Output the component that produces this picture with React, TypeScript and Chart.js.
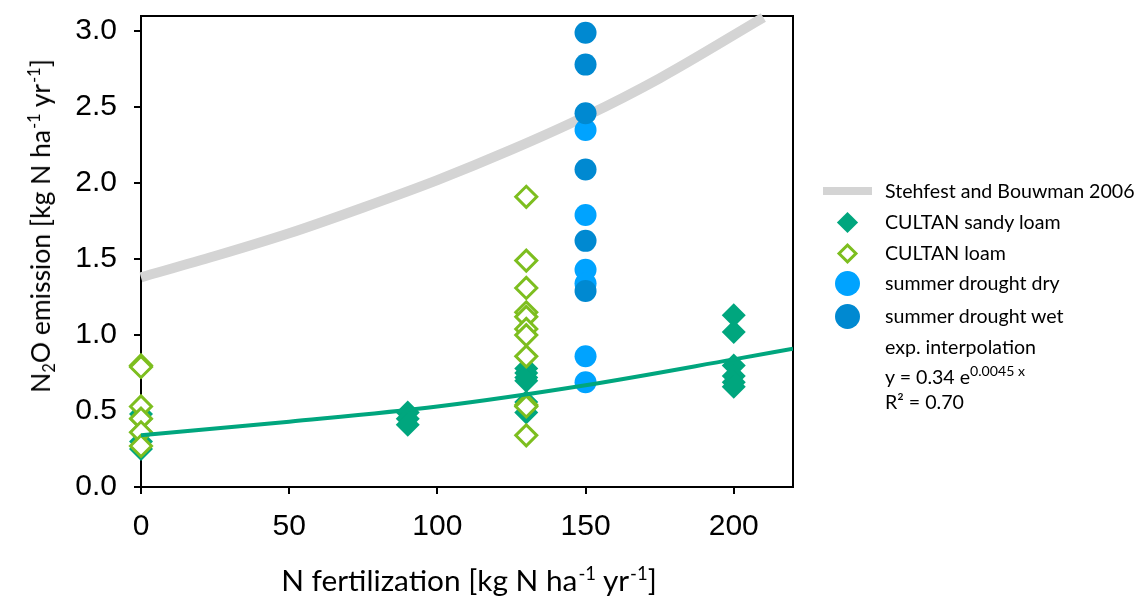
import React, { useEffect, useRef } from "react";
import { Chart, registerables } from "chart.js";

Chart.register(...registerables);

// ---- data ----
const xTicks = [0, 50, 100, 150, 200];
const yTicks = [0, 0.5, 1.0, 1.5, 2.0, 2.5, 3.0];

const sandyX = [0, 0, 0, 0, 0, 90, 90, 90, 130, 130, 130, 130, 130, 130, 130, 200, 200, 200, 200, 200, 200];
const sandyY = [0.48, 0.45, 0.36, 0.30, 0.25, 0.49, 0.45, 0.41, 0.78, 0.75, 0.72, 0.70, 0.56, 0.53, 0.49, 1.13, 1.02, 0.80, 0.73, 0.69, 0.66];

const loamX = [0, 0, 0, 0, 0, 0, 130, 130, 130, 130, 130, 130, 130, 130, 130, 130, 130];
const loamY = [0.80, 0.79, 0.53, 0.45, 0.36, 0.27, 1.91, 1.49, 1.31, 1.15, 1.12, 1.04, 1.00, 0.86, 0.54, 0.53, 0.34];

const dryX = [150, 150, 150, 150, 150, 150];
const dryY = [2.35, 1.79, 1.43, 1.34, 0.86, 0.69];

const wetX = [150, 150, 150, 150, 150, 150];
const wetY = [2.99, 2.78, 2.46, 2.09, 1.62, 1.29];

const stehX = [0, 25, 50, 75, 100, 125, 150, 175, 210];
const stehY = [1.38, 1.52, 1.67, 1.84, 2.02, 2.22, 2.44, 2.69, 3.09];

const fitX = [0, 50, 100, 150, 200, 220];
const fitY = [0.34, 0.43, 0.53, 0.67, 0.84, 0.91];

const legendLabels = [
  "Stehfest and Bouwman 2006",
  "CULTAN sandy loam",
  "CULTAN loam",
  "summer drought dry",
  "summer drought wet",
];

// ---- style ----
const C_TEAL = "#00A67E";
const C_LOAM = "#7DBE1F";
const C_DRY = "#00A3FF";
const C_WET = "#0089D1";
const C_GRAY = "#D4D4D4";
const TEXT_FONT = "Lato, 'Open Sans', sans-serif";
const TICK_FONT = "'Liberation Sans', Arial, sans-serif";

const pts = (xs: number[], ys: number[]) => xs.map((x, i) => ({ x, y: ys[i] }));

const framePlugin = {
  id: "frame",
  beforeDatasetsDraw(chart: any) {
    const { ctx, chartArea: a } = chart;
    ctx.save();
    ctx.strokeStyle = "#000";
    ctx.lineWidth = 2;
    ctx.strokeRect(a.left, a.top, a.right - a.left, a.bottom - a.top);
    ctx.restore();
  },
};

export default function App() {
  const ref = useRef<HTMLCanvasElement | null>(null);

  useEffect(() => {
    if (!ref.current) return;
    const chart = new Chart(ref.current, {
      type: "scatter",
      data: {
        datasets: [
          {
            label: "fit",
            data: pts(fitX, fitY),
            showLine: true,
            borderColor: C_TEAL,
            borderWidth: 4,
            pointRadius: 0,
            cubicInterpolationMode: "monotone",
            order: 0,
          } as any,
          {
            label: legendLabels[2],
            data: pts(loamX, loamY),
            pointStyle: "rectRot",
            pointRadius: 10.5,
            borderWidth: 3,
            borderColor: C_LOAM,
            backgroundColor: "#ffffff",
            clip: false,
            order: 1,
          },
          {
            label: legendLabels[1],
            data: pts(sandyX, sandyY),
            pointStyle: "rectRot",
            pointRadius: 12,
            borderWidth: 0,
            backgroundColor: C_TEAL,
            clip: false,
            order: 2,
          },
          {
            label: legendLabels[4],
            data: pts(wetX, wetY),
            pointStyle: "circle",
            pointRadius: 11,
            borderWidth: 0,
            backgroundColor: C_WET,
            clip: false,
            order: 3,
          },
          {
            label: legendLabels[3],
            data: pts(dryX, dryY),
            pointStyle: "circle",
            pointRadius: 11,
            borderWidth: 0,
            backgroundColor: C_DRY,
            clip: false,
            order: 4,
          },
          {
            label: legendLabels[0],
            data: pts(stehX, stehY),
            showLine: true,
            borderColor: C_GRAY,
            borderWidth: 10,
            pointRadius: 0,
            cubicInterpolationMode: "monotone",
            clip: false,
            order: 5,
          } as any,
        ],
      },
      options: {
        responsive: false,
        animation: false,
        events: [],
        layout: { padding: { left: 0, top: 16, right: 349, bottom: 0 } },
        plugins: { legend: { display: false }, tooltip: { enabled: false } },
        scales: {
          x: {
            type: "linear",
            min: 0,
            max: 220,
            afterBuildTicks: (s: any) => {
              s.ticks = xTicks.map((v) => ({ value: v }));
            },
            afterFit: (s: any) => {
              s.height = 118;
              s.paddingLeft = 0;
              s.paddingRight = 0;
            },
            ticks: {
              font: { family: TICK_FONT, size: 30 },
              color: "#000",
              padding: 15,
              maxRotation: 0,
              autoSkip: false,
              callback: (v: any) => String(v),
            },
            grid: { drawOnChartArea: false, drawTicks: true, tickLength: 7, color: "#000", lineWidth: 2 },
            border: { display: false },
          },
          y: {
            type: "linear",
            min: 0,
            max: 3.1,
            afterBuildTicks: (s: any) => {
              s.ticks = yTicks.map((v) => ({ value: v }));
            },
            afterFit: (s: any) => {
              s.width = 141;
              s.paddingTop = 0;
              s.paddingBottom = 0;
            },
            ticks: {
              font: { family: TICK_FONT, size: 30 },
              color: "#000",
              padding: 17,
              autoSkip: false,
              callback: (v: any) => Number(v).toFixed(1),
            },
            grid: { drawOnChartArea: false, drawTicks: true, tickLength: 7, color: "#000", lineWidth: 2 },
            border: { display: false },
          },
        },
      },
      plugins: [framePlugin],
    });
    return () => chart.destroy();
  }, []);

  const sup: React.CSSProperties = { fontSize: "0.62em", position: "relative", top: "-0.6em", marginLeft: 1 };
  const sub: React.CSSProperties = { fontSize: "0.62em", position: "relative", top: "0.3em" };

  const legendRowsY = [191, 222, 253, 283, 316];
  const textStyle = (y: number): React.CSSProperties => ({
    position: "absolute",
    left: 885,
    top: y - 12,
    height: 24,
    lineHeight: "24px",
    fontFamily: TEXT_FONT,
    fontSize: 19.6,
    color: "#000",
    whiteSpace: "nowrap",
  });

  const symbols = [
    <div key="s0" style={{ position: "absolute", left: 823, top: legendRowsY[0] - 4, width: 49, height: 8, background: C_GRAY }} />,
    <div key="s1" style={{ position: "absolute", left: 847 - 7.5, top: legendRowsY[1] - 7.5, width: 15, height: 15, background: C_TEAL, transform: "rotate(45deg)" }} />,
    <div key="s2" style={{ position: "absolute", left: 847 - 7.5, top: legendRowsY[2] - 7.5, width: 15, height: 15, boxSizing: "border-box", border: `3px solid ${C_LOAM}`, background: "#fff", transform: "rotate(45deg)" }} />,
    <div key="s3" style={{ position: "absolute", left: 847 - 12.5, top: legendRowsY[3] - 12.5, width: 25, height: 25, borderRadius: "50%", background: C_DRY }} />,
    <div key="s4" style={{ position: "absolute", left: 847 - 12.5, top: legendRowsY[4] - 12.5, width: 25, height: 25, borderRadius: "50%", background: C_WET }} />,
  ];

  return (
    <div style={{ position: "absolute", left: 0, top: 0, width: 1142, height: 605, background: "#fff" }}>
      <canvas ref={ref} width={1142} height={605} style={{ position: "absolute", left: 0, top: 0 }} />
      {/* y title */}
      <div
        style={{
          position: "absolute",
          left: 42,
          top: 226,
          transform: "translate(-50%, -50%) rotate(-90deg)",
          fontFamily: TEXT_FONT,
          fontSize: 26.5,
          lineHeight: "32px",
          whiteSpace: "nowrap",
          color: "#000",
        }}
      >
        N<span style={sub}>2</span>O emission [kg N ha<span style={sup}>-1</span> yr<span style={sup}>-1</span>]
      </div>
      {/* x title */}
      <div
        style={{
          position: "absolute",
          left: 469,
          top: 582,
          transform: "translate(-50%, -50%)",
          fontFamily: TEXT_FONT,
          fontSize: 29.8,
          lineHeight: "34px",
          whiteSpace: "nowrap",
          color: "#000",
        }}
      >
        N fertilization [kg N ha<span style={sup}>-1</span> yr<span style={sup}>-1</span>]
      </div>
      {/* legend */}
      {symbols}
      {legendLabels.map((t, i) => (
        <div key={t} style={textStyle(legendRowsY[i])}>
          {t}
        </div>
      ))}
      <div style={textStyle(347)}>exp. interpolation</div>
      <div style={textStyle(377)}>
        y = 0.34 e<span style={{ fontSize: "0.72em", position: "relative", top: "-0.55em" }}>0.0045 x</span>
      </div>
      <div style={textStyle(402)}>R² = 0.70</div>
    </div>
  );
}
